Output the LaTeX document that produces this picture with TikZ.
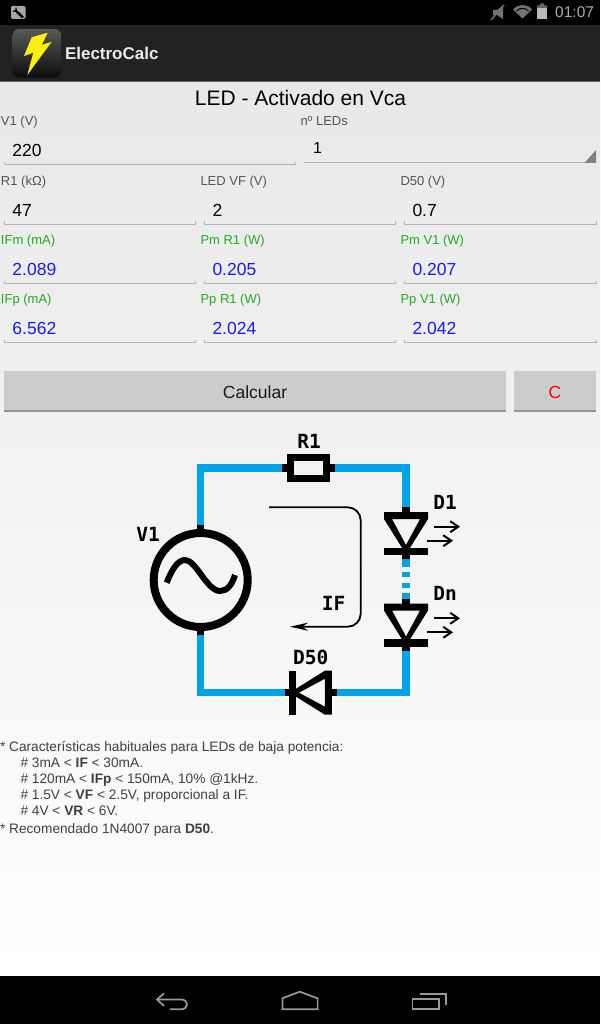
\documentclass[tikz,border=0pt]{standalone}
\usepackage{fontspec}
\setmainfont{Liberation Sans}
\newfontfamily\circuitfont{DejaVu Sans Mono}
\usetikzlibrary{arrows.meta}
\definecolor{wireblue}{HTML}{00A2E8}
\definecolor{labelgreen}{HTML}{22AA22}
\definecolor{valueblue}{HTML}{1A1AF0}
\definecolor{labelgrey}{HTML}{555555}
\definecolor{linegrey}{HTML}{B4B4B4}
\definecolor{barblack}{HTML}{222222}
\definecolor{navgrey}{HTML}{999999}

\begin{document}
\begin{tikzpicture}[x=1pt,y=-1pt,
				diode/.pic={
					\fill[black,even odd rule] (-22,-21) -- (22,-21) -- (22,-14) -- (2,18) -- (-2,18) -- (-22,-14) -- cycle
						(-14,-14) -- (14,-14) -- (0,12) -- cycle;
					\fill[black] (-22,14.5) rectangle (22,22);
					\fill[black] (-3.75,-26) rectangle (3.75,-20);
					\fill[black] (-3.75,21) rectangle (3.75,26);
					\coordinate (-in) at (0,-26);
					\coordinate (-out) at (0,26);
				}]
				\tikzstyle{every node}=[inner sep=0pt,outer sep=0pt]
				\tikzstyle{caption}=[anchor=base west,font=\fontsize{13}{15}\selectfont,text=labelgrey]
				\tikzstyle{result}=[caption,text=labelgreen]
				\tikzstyle{entry}=[anchor=base west,font=\fontsize{17.5}{20}\selectfont,text=black]
				\tikzstyle{output}=[entry,text=valueblue]
				\tikzstyle{underline}=[draw=linegrey,line width=1pt]
				\tikzstyle{button}=[fill=black!20,draw=none]
				\tikzstyle{wire}=[draw=wireblue,line width=7.5pt]
				\tikzstyle{stub}=[draw=black,line width=7.5pt]
				\tikzstyle{circuit label}=[font=\circuitfont\bfseries\fontsize{19.5}{22}\selectfont,text=black]
				\tikzstyle{ray}=[draw=black,line width=2pt,-{Straight Barb[length=8pt,width=11pt]}]
				\tikzstyle{note}=[anchor=base west,font=\fontsize{13.7}{16}\selectfont,text=black!75]
				\tikzstyle{nav icon}=[draw=navgrey,line width=1.7pt]

				\useasboundingbox (0,0) rectangle (600,1024);
				\fill[top color=black!9,bottom color=white] (0,81) rectangle (600,976);
				\fill[black] (0,0) rectangle (600,25);
				\fill[barblack] (0,25) rectangle (600,81);
				\fill[black!60] (0,81) rectangle (600,82.5);
				\fill[black] (0,976) rectangle (600,1024);

				\fill[black!35,rounded corners=1.5pt] (11,6) rectangle (25.5,19);
				\draw[black,line width=2.5pt,-{Stealth[length=5pt,width=6pt,reversed]}] (23,17.5) -- (14,9);
				\fill[black!55] (493,10) -- (497,10) -- (503,5.7) -- (503,19) -- (497,15) -- (493,15) -- cycle;
				\draw[black!55,line width=1.5pt] (491,20) -- (504,5);
				\fill[black!55] (513,9.5) .. controls (518,3.5) and (527,3.5) .. (532,9.5) -- (522.5,18.5) -- cycle;
				\draw[black,line width=1pt] (516.5,11) .. controls (520,7.5) and (525,7.5) .. (528.5,11);
				\fill[black!60] (540,3.3) rectangle (544,5.5) (537,5.5) rectangle (547,8.5);
				\fill[black!28] (537,8.5) rectangle (547,19);
				\node[anchor=base east,font=\fontsize{15.5}{18}\selectfont,text=black!33] (clock) at (594,18) {01:07};

				\fill[top color=black!65,bottom color=black!95,rounded corners=6pt] (12.7,29) rectangle (61,77.3);
				\fill[yellow] (47.7,32.7) -- (31.7,37.3) -- (24,56) -- (33.3,52.7) -- (27.3,75) -- (51.7,41.7) -- (41.7,45) -- cycle;
				\node[anchor=base west,font=\bfseries\fontsize{17}{20}\selectfont,text=white!92!black] (appname) at (65,60) {ElectroCalc};

				\node[font=\fontsize{21}{24}\selectfont,text=black] (title) at (300.5,97.5) {LED - Activado en Vca};

				\node[caption] (capV1) at (1,126) {V1 (V)};
				\node[caption] (capLEDs) at (300.5,126) {nº LEDs};
				\node[entry] (valV1) at (12.5,157) {220};
				\node[entry,font=\fontsize{16}{18}\selectfont] (valLEDs) at (313,154) {1};
				\draw[underline] (4,162) |- (295.5,165) -- (295.5,162);
				\draw[underline] (304,162.5) -- (596,162.5);
				\fill[black!50] (596,150) -- (596,163) -- (584.5,163) -- cycle;

				\node[caption] (capR1) at (1,185.5) {R1 (kΩ)};
				\node[caption] (capVF) at (200.5,185.5) {LED VF (V)};
				\node[caption] (capD50) at (400.5,185.5) {D50 (V)};
				\node[entry] (valR1) at (12.5,216.3) {47};
				\node[entry] (valVF) at (212.5,216.3) {2};
				\node[entry] (valD50) at (412.5,216.3) {0.7};
				\draw[underline] (4,221.5) |- (195.5,224.5) -- (195.5,221.5);
				\draw[underline] (204.5,221.5) |- (395.5,224.5) -- (395.5,221.5);
				\draw[underline] (404.5,221.5) |- (596,224.5) -- (596,221.5);

				\node[result] (capIFm) at (1,244) {IFm (mA)};
				\node[result] (capPmR) at (200.5,244) {Pm R1 (W)};
				\node[result] (capPmV) at (400.5,244) {Pm V1 (W)};
				\node[output] (valIFm) at (12.5,275.3) {2.089};
				\node[output] (valPmR) at (212.5,275.3) {0.205};
				\node[output] (valPmV) at (412.5,275.3) {0.207};
				\draw[underline] (4,280.5) |- (195.5,283.5) -- (195.5,280.5);
				\draw[underline] (204.5,280.5) |- (395.5,283.5) -- (395.5,280.5);
				\draw[underline] (404.5,280.5) |- (596,283.5) -- (596,280.5);

				\node[result] (capIFp) at (1,303) {IFp (mA)};
				\node[result] (capPpR) at (200.5,303) {Pp R1 (W)};
				\node[result] (capPpV) at (400.5,303) {Pp V1 (W)};
				\node[output] (valIFp) at (12.5,334) {6.562};
				\node[output] (valPpR) at (212.5,334) {2.024};
				\node[output] (valPpV) at (412.5,334) {2.042};
				\draw[underline] (4,339.5) |- (195.5,342.5) -- (195.5,339.5);
				\draw[underline] (204.5,339.5) |- (395.5,342.5) -- (395.5,339.5);
				\draw[underline] (404.5,339.5) |- (596,342.5) -- (596,339.5);

				\fill[button] (4,371) rectangle (506,410);
				\fill[black!42] (4,410) rectangle (506,411.5);
				\fill[button] (514,371) rectangle (596,410);
				\fill[black!42] (514,410) rectangle (596,411.5);
				\node[font=\fontsize{17.5}{20}\selectfont,text=black!90] (calc) at (255,392) {Calcular};
				\node[font=\fontsize{17.5}{20}\selectfont,text=red] (clear) at (555,392) {C};

				\node[circle,draw=black,line width=8pt,minimum size=94pt] (V1src) at (200.7,580) {};
				\node[rectangle,draw=black,line width=7pt,minimum width=35.5pt,minimum height=20.5pt] (R1box) at (308.3,468) {};
				\pic (D1sym) at (406,533) {diode};
				\pic (Dnsym) at (406,624.5) {diode};
				\pic[rotate=-90] (D50sym) at (310.9,692.7) {diode};
				\coordinate (V1top) at (200.7,525);
				\coordinate (V1bot) at (200.7,635);
				\coordinate (R1left) at (282,468);
				\coordinate (R1right) at (335,468);
				\draw[wire] (V1top) |- (R1left);
				\draw[wire] (R1right) -| (D1sym-in);
				\draw[wire,dash pattern=on 8pt off 5pt on 5pt off 6pt on 5pt off 5pt on 6pt off 0pt] (D1sym-out) -- (Dnsym-in);
				\draw[wire] (Dnsym-out) |- (D50sym-in);
				\draw[wire] (D50sym-out) -| (V1bot);
				\draw[stub] (V1top) -- (V1src.north);
				\draw[stub] (V1bot) -- (V1src.south);
				\draw[stub] (R1left) -- (R1box.west);
				\draw[stub] (R1right) -- (R1box.east);
				\draw[black,line width=6pt] (166.7,582.7) .. controls (172,569) and (178,560) .. (185,560) .. controls (196,560) and (207,591) .. (220,591) .. controls (227,591) and (232,585) .. (235,575);

				\coordinate (D1ray1) at (434,526.7);
				\coordinate (D1ray1e) at (460,526.7);
				\coordinate (D1ray2) at (427,540.7);
				\coordinate (D1ray2e) at (453,540.7);
				\coordinate (Dnray1) at (434,618.3);
				\coordinate (Dnray1e) at (460,618.3);
				\coordinate (Dnray2) at (427,632.3);
				\coordinate (Dnray2e) at (453,632.3);
				\draw[ray] (D1ray1) -- (D1ray1e);
				\draw[ray] (D1ray2) -- (D1ray2e);
				\draw[ray] (Dnray1) -- (Dnray1e);
				\draw[ray] (Dnray2) -- (Dnray2e);

				\coordinate (IFstart) at (269,507.3);
				\coordinate (IFside) at (360.7,567);
				\coordinate (IFend) at (290,626.7);
				\draw[black,line width=1.8pt,rounded corners=13pt,-{Stealth[length=18pt,width=8pt]}] (IFstart) -| (IFside) |- (IFend);

				\node[circuit label] (R1tag) at (309,441.7) {R1};
				\node[circuit label] (V1tag) at (148,534) {V1};
				\node[circuit label] (D1tag) at (445,502.7) {D1};
				\node[circuit label] (Dntag) at (445,593) {Dn};
				\node[circuit label] (IFtag) at (333.5,603) {IF};
				\node[circuit label] (D50tag) at (310.7,657.7) {D50};

				\node[note] (note1) at (0,751) {* Características habituales para LEDs de baja potencia:};
				\node[note] (note2) at (20.5,767) {\# 3mA < \textbf{IF} < 30mA.};
				\node[note] (note3) at (20.5,783) {\# 120mA < \textbf{IFp} < 150mA, 10\% @1kHz.};
				\node[note] (note4) at (20.5,799) {\# 1.5V < \textbf{VF} < 2.5V, proporcional a IF.};
				\node[note] (note5) at (20.5,815) {\# 4V < \textbf{VR} < 6V.};
				\node[note] (note6) at (0,833.5) {* Recomendado 1N4007 para \textbf{D50}.};

				\draw[nav icon] (164,993.3) -- (157,999.5) -- (164,1006);
				\draw[nav icon] (157,999.5) -- (181,999.5) .. controls (189,999.5) and (189,1009.3) .. (181,1009.3) -- (170,1009.3);
				\draw[nav icon] (282.4,1009.3) -- (282.4,998.3) -- (299.7,991.7) -- (317.6,998.3) -- (317.6,1009.3) -- cycle;
				\draw[nav icon] (412.5,999.3) rectangle (439.3,1009.3);
				\draw[nav icon] (420,994) -- (445.8,994) -- (445.8,1005);
\end{tikzpicture}
\end{document}
